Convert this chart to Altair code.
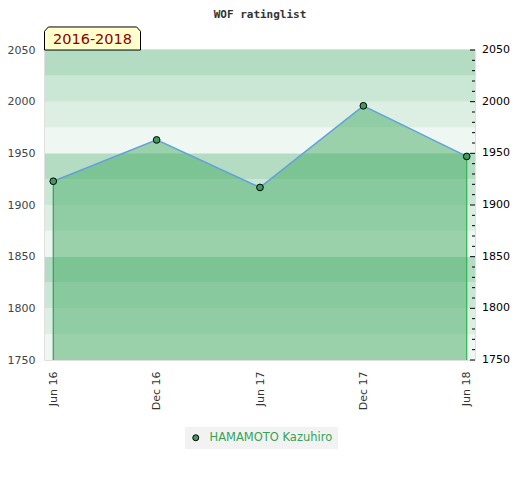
import altair as alt
import pandas as pd

# ---- data ----
periods = ["Jun 16", "Dec 16", "Jun 17", "Dec 17", "Jun 18"]
ratings = [1923, 1963, 1917, 1996, 1947]
player = "HAMAMOTO Kazuhiro"

band_lo = [1750, 1775, 1800, 1825, 1850, 1875, 1900, 1925, 1950, 1975, 2000, 2025]
band_hi = [1775, 1800, 1825, 1850, 1875, 1900, 1925, 1950, 1975, 2000, 2025, 2050]
band_colors = ["#eef7f1", "#dcefe2", "#cae6d4", "#b3dcc2"] * 3

right_labels = [1750, 1800, 1850, 1900, 1950, 2000, 2050]
minor_ticks = [1760, 1770, 1780, 1790, 1810, 1820, 1830, 1840, 1860, 1870, 1880, 1890,
               1910, 1920, 1930, 1940, 1960, 1970, 1980, 1990, 2010, 2020, 2030, 2040]

edge_periods = [periods[0], periods[-1]]
edge_ratings = [ratings[0], ratings[-1]]
edge_colors = ["#3a9a5a", "#2db34f"]

period_label = "2016-2018"
title_text = "WOF ratinglist"

W, H = 430, 310
YMIN, YMAX = 1750, 2050

df = pd.DataFrame({"period": periods, "rating": ratings, "player": [player] * len(periods)})
bands = pd.DataFrame({"lo": band_lo, "hi": band_hi, "c": band_colors})
edges = pd.DataFrame({"period": edge_periods, "rating": edge_ratings, "c": edge_colors})
rlab = pd.DataFrame({"v": right_labels})
minors = pd.DataFrame({"v": minor_ticks})

yscale = alt.Scale(domain=[YMIN, YMAX], zero=False, nice=False)
xscale = alt.Scale(domain=periods, type="point", padding=0.08)

yaxis = alt.Axis(values=right_labels, format="d", title=None, grid=False, domain=False,
                 ticks=False, tickSize=0, labelPadding=10, labelColor="#444444",
                 labelFontSize=11, labelFont="DejaVu Sans")
xaxis = alt.Axis(title=None, grid=False, domain=False, ticks=False, tickSize=0,
                 labelAngle=270, labelAlign="right", labelBaseline="middle",
                 labelPadding=11, labelColor="#333333", labelFontSize=11,
                 labelFont="DejaVu Sans")

band_layer = alt.Chart(bands).mark_rect().encode(
    x=alt.value(0), x2=alt.value(W),
    y=alt.Y("lo:Q", scale=yscale, axis=yaxis),
    y2="hi:Q",
    fill=alt.Fill("c:N", scale=None),
)

area_layer = alt.Chart(df).mark_area(color="#46ab65", opacity=0.5).encode(
    x=alt.X("period:N", scale=xscale, axis=xaxis, sort=periods),
    y=alt.Y("rating:Q", scale=yscale),
    y2=alt.datum(YMIN),
)

line_layer = alt.Chart(df).mark_line(color="#62a2dc", strokeWidth=1.5).encode(
    x=alt.X("period:N", scale=xscale, sort=periods),
    y=alt.Y("rating:Q", scale=yscale),
)

edge_layer = alt.Chart(edges).mark_rule(strokeWidth=1.2).encode(
    x=alt.X("period:N", scale=xscale, sort=periods),
    y=alt.Y("rating:Q", scale=yscale),
    y2=alt.datum(YMIN),
    stroke=alt.Stroke("c:N", scale=None),
)

point_layer = alt.Chart(df).mark_point(filled=True, size=45, stroke="black",
                                       strokeWidth=1, opacity=1, shape="circle").encode(
    x=alt.X("period:N", scale=xscale, sort=periods),
    y=alt.Y("rating:Q", scale=yscale),
    fill=alt.Fill("player:N", scale=alt.Scale(range=["#3a9e5a"]),
                  legend=alt.Legend(title=None, orient="none", legendX=140, legendY=377,
                                    fillColor="#f2f2f2", padding=5, symbolSize=36,
                                    symbolStrokeColor="black", symbolStrokeWidth=1,
                                    labelColor="#35a35a", labelFontSize=11.5,
                                    labelOffset=8, labelFont="DejaVu Sans",
                                    symbolType="circle")),
)

minor_layer = alt.Chart(minors).mark_rule(color="black", strokeWidth=1).encode(
    y=alt.Y("v:Q", scale=yscale), x=alt.value(W - 3), x2=alt.value(W),
)
major_layer = alt.Chart(rlab).mark_rule(color="black", strokeWidth=1).encode(
    y=alt.Y("v:Q", scale=yscale), x=alt.value(W - 5), x2=alt.value(W),
)
rtext_layer = alt.Chart(rlab).mark_text(align="left", baseline="middle", fontSize=11,
                                        font="DejaVu Sans", color="black").encode(
    y=alt.Y("v:Q", scale=yscale), x=alt.value(W + 7), text=alt.Text("v:Q", format="d"),
)

box_path = "M -1 0.24 L -1 -0.15 L -0.92 -0.24 L 0.92 -0.24 L 1 -0.15 L 1 0.24 Z"
box_layer = alt.Chart(pd.DataFrame({"t": [period_label]})).mark_point(
    shape=box_path, size=96 * 96, filled=True, fill="#ffffcc", stroke="black",
    strokeWidth=1, opacity=1,
).encode(x=alt.value(47.5), y=alt.value(-11.5))
box_text = alt.Chart(pd.DataFrame({"t": [period_label]})).mark_text(
    fontSize=14.5, font="DejaVu Sans", color="#8b0000", align="center", baseline="middle",
).encode(x=alt.value(47.5), y=alt.value(-10.5), text="t:N")

title_layer = alt.Chart(pd.DataFrame({"t": [title_text]})).mark_text(
    fontSize=11, font="DejaVu Sans Mono", fontWeight="bold", color="#333333",
    align="center", baseline="middle",
).encode(x=alt.value(W / 2), y=alt.value(-35.5), text="t:N")

chart = alt.layer(
    band_layer, area_layer, line_layer, edge_layer, minor_layer, major_layer,
    point_layer, rtext_layer, box_layer, box_text, title_layer,
).properties(
    width=W, height=H,
    autosize=alt.AutoSizeParams(type="none"),
    padding={"left": 37, "top": 42, "right": 37, "bottom": 112},
).configure_view(stroke="#d6d6d6", strokeWidth=1.5)

chart.save("out.html", embed_options={"renderer": "svg", "actions": False})
